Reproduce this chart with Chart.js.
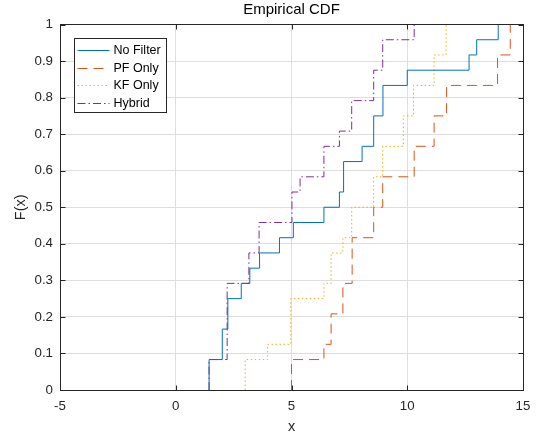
<!DOCTYPE html>
<html lang="en">
<head>
<meta charset="UTF-8">
<title>Empirical CDF</title>
<script src="https://cdn.jsdelivr.net/npm/chart.js"></script>
<style>
    body { margin: 0; background: #fff; }
</style>
</head>
<body>
<canvas id="myChart" width="539" height="436"></canvas>

<script>
    // step positions (x) and the CDF level reached at each step
    const seriesNames = ['No Filter', 'PF Only', 'KF Only', 'Hybrid'];

    const noFilterX = [1.44, 2.01, 2.25, 2.83, 3.2, 3.62, 4.48, 5.08, 6.4, 7.07, 7.25, 8.05, 8.55, 8.95, 10.0, 12.67, 13.0, 13.93];
    const noFilterF = [0.0833, 0.1667, 0.25, 0.2917, 0.3333, 0.375, 0.4167, 0.4583, 0.5, 0.5417, 0.625, 0.6667, 0.75, 0.8333, 0.875, 0.9167, 0.9583, 1];

    const pfOnlyX = [5.0, 6.4, 6.71, 7.22, 7.62, 8.55, 8.94, 10.3, 11.16, 11.7, 13.9, 14.45];
    const pfOnlyF = [0.0833, 0.125, 0.2083, 0.2917, 0.4167, 0.5, 0.5833, 0.6667, 0.75, 0.8333, 0.9167, 1];

    const kfOnlyX = [3.0, 3.97, 4.97, 6.4, 6.71, 7.22, 7.6, 8.55, 8.94, 9.83, 10.27, 11.16, 11.68];
    const kfOnlyF = [0.0833, 0.125, 0.25, 0.2917, 0.375, 0.4167, 0.5, 0.5833, 0.6667, 0.75, 0.8333, 0.9167, 1];

    const hybridX = [1.44, 2.22, 3.16, 3.6, 5.02, 5.37, 6.4, 7.07, 7.6, 8.55, 8.94, 10.3];
    const hybridF = [0.0833, 0.2917, 0.375, 0.4583, 0.5417, 0.5833, 0.6667, 0.7083, 0.7917, 0.875, 0.9583, 1];

    const xTicks = [-5, 0, 5, 10, 15];
    const xTickLabels = ['-5', '0', '5', '10', '15'];
    const yTicks = [0, 0.1, 0.2, 0.3, 0.4, 0.5, 0.6, 0.7, 0.8, 0.9, 1];
    const yTickLabels = ['0', '0.1', '0.2', '0.3', '0.4', '0.5', '0.6', '0.7', '0.8', '0.9', '1'];

    const colors = ['#0072BD', '#D95319', '#EDB120', '#7E2F8E'];
    const dashes = [[], [10, 6], [1.5, 2.5], [8, 3, 1.5, 3]];
    const axisColor = '#262626';

    function stairs(xs, fs) {
        const pts = [{x: xs[0], y: 0}];
        xs.forEach((x, i) => pts.push({x: x, y: fs[i]}));
        return pts;
    }

    const allSeries = [
        stairs(noFilterX, noFilterF),
        stairs(pfOnlyX, pfOnlyF),
        stairs(kfOnlyX, kfOnlyF),
        stairs(hybridX, hybridF),
    ];

    Chart.defaults.font.family = "'Liberation Sans', Arial, sans-serif";

    // box round the axes, inward tick marks and the legend inside the plot
    const matlabAxes = {
        id: 'matlabAxes',
        afterDatasetsDraw(chart) {
            const ctx = chart.ctx;
            const a = chart.chartArea;
            const xs = chart.scales.x;
            const ys = chart.scales.y;
            const L = Math.floor(a.left) + 0.5, R = Math.floor(a.right) + 0.5;
            const T = Math.floor(a.top) + 0.5, B = Math.floor(a.bottom) + 0.5;
            const tl = 5;

            ctx.save();
            ctx.strokeStyle = axisColor;
            ctx.lineWidth = 1;
            ctx.strokeRect(L, T, R - L, B - T);
            ctx.beginPath();
            xs.ticks.forEach(t => {
                const p = Math.round(xs.getPixelForValue(t.value)) + 0.5;
                ctx.moveTo(p, B); ctx.lineTo(p, B - tl);
                ctx.moveTo(p, T); ctx.lineTo(p, T + tl);
            });
            ys.ticks.forEach(t => {
                const p = Math.round(ys.getPixelForValue(t.value)) + 0.5;
                ctx.moveTo(L, p); ctx.lineTo(L + tl, p);
                ctx.moveTo(R, p); ctx.lineTo(R - tl, p);
            });
            ctx.stroke();

            // legend
            const bx = Math.floor(a.left + 14) + 0.5;
            const by = Math.floor(a.top + 13.5) + 0.5;
            const bw = 92, bh = 74;
            ctx.fillStyle = '#fff';
            ctx.fillRect(bx, by, bw, bh);
            ctx.strokeStyle = axisColor;
            ctx.strokeRect(bx, by, bw, bh);

            ctx.font = "12.5px 'Liberation Sans', Arial, sans-serif";
            ctx.textBaseline = 'middle';
            ctx.textAlign = 'left';
            seriesNames.forEach((name, i) => {
                const y = Math.round(by + 11.5 + i * 17.6) + 0.5;
                ctx.beginPath();
                ctx.setLineDash(dashes[i]);
                ctx.strokeStyle = colors[i];
                ctx.moveTo(bx + 3, y);
                ctx.lineTo(bx + 35, y);
                ctx.stroke();
                ctx.setLineDash([]);
                ctx.fillStyle = '#000';
                ctx.fillText(name, bx + 39, y);
            });
            ctx.restore();
        }
    };

    const config = {
        type: 'line',
        data: {
            datasets: allSeries.map((pts, i) => ({
                label: seriesNames[i],
                data: pts,
                borderColor: colors[i],
                borderDash: dashes[i],
                borderWidth: 1,
                pointRadius: 0,
                pointHoverRadius: 0,
                fill: false,
                stepped: 'before',
            }))
        },
        options: {
            responsive: false,
            devicePixelRatio: 1,
            animation: false,
            events: [],
            layout: {padding: {left: 0, right: 16, top: 0, bottom: 0}},
            plugins: {
                legend: {display: false},
                tooltip: {enabled: false},
                title: {
                    display: true,
                    text: 'Empirical CDF',
                    fullSize: false,
                    color: '#000',
                    font: {size: 15, weight: 'normal'},
                    padding: {top: 0.5, bottom: 6},
                },
            },
            scales: {
                x: {
                    type: 'linear',
                    min: -5,
                    max: 15,
                    afterBuildTicks: s => { s.ticks = xTicks.map(v => ({value: v})); },
                    afterFit: s => { s.height = 46; },
                    ticks: {
                        callback: (v, i) => xTickLabels[i],
                        color: axisColor,
                        font: {size: 13.3},
                        padding: 8.5,
                        maxRotation: 0,
                        autoSkip: false,
                    },
                    grid: {color: '#dedede', drawTicks: false},
                    border: {display: false},
                    title: {
                        display: true,
                        text: 'x',
                        color: axisColor,
                        font: {size: 14.5},
                        padding: {top: 0, bottom: 0},
                    },
                },
                y: {
                    type: 'linear',
                    min: 0,
                    max: 1,
                    afterBuildTicks: s => { s.ticks = yTicks.map(v => ({value: v})); },
                    afterFit: s => { s.width = 60; },
                    ticks: {
                        callback: (v, i) => yTickLabels[i],
                        color: axisColor,
                        font: {size: 13.3},
                        padding: 7,
                        autoSkip: false,
                    },
                    grid: {color: '#dedede', drawTicks: false},
                    border: {display: false},
                    title: {
                        display: true,
                        text: 'F(x)',
                        color: axisColor,
                        font: {size: 14.5},
                        padding: {top: 12, bottom: 0},
                    },
                },
            },
        },
        plugins: [matlabAxes],
    };

    const myChart = new Chart(document.getElementById('myChart'), config);
</script>
</body>
</html>
